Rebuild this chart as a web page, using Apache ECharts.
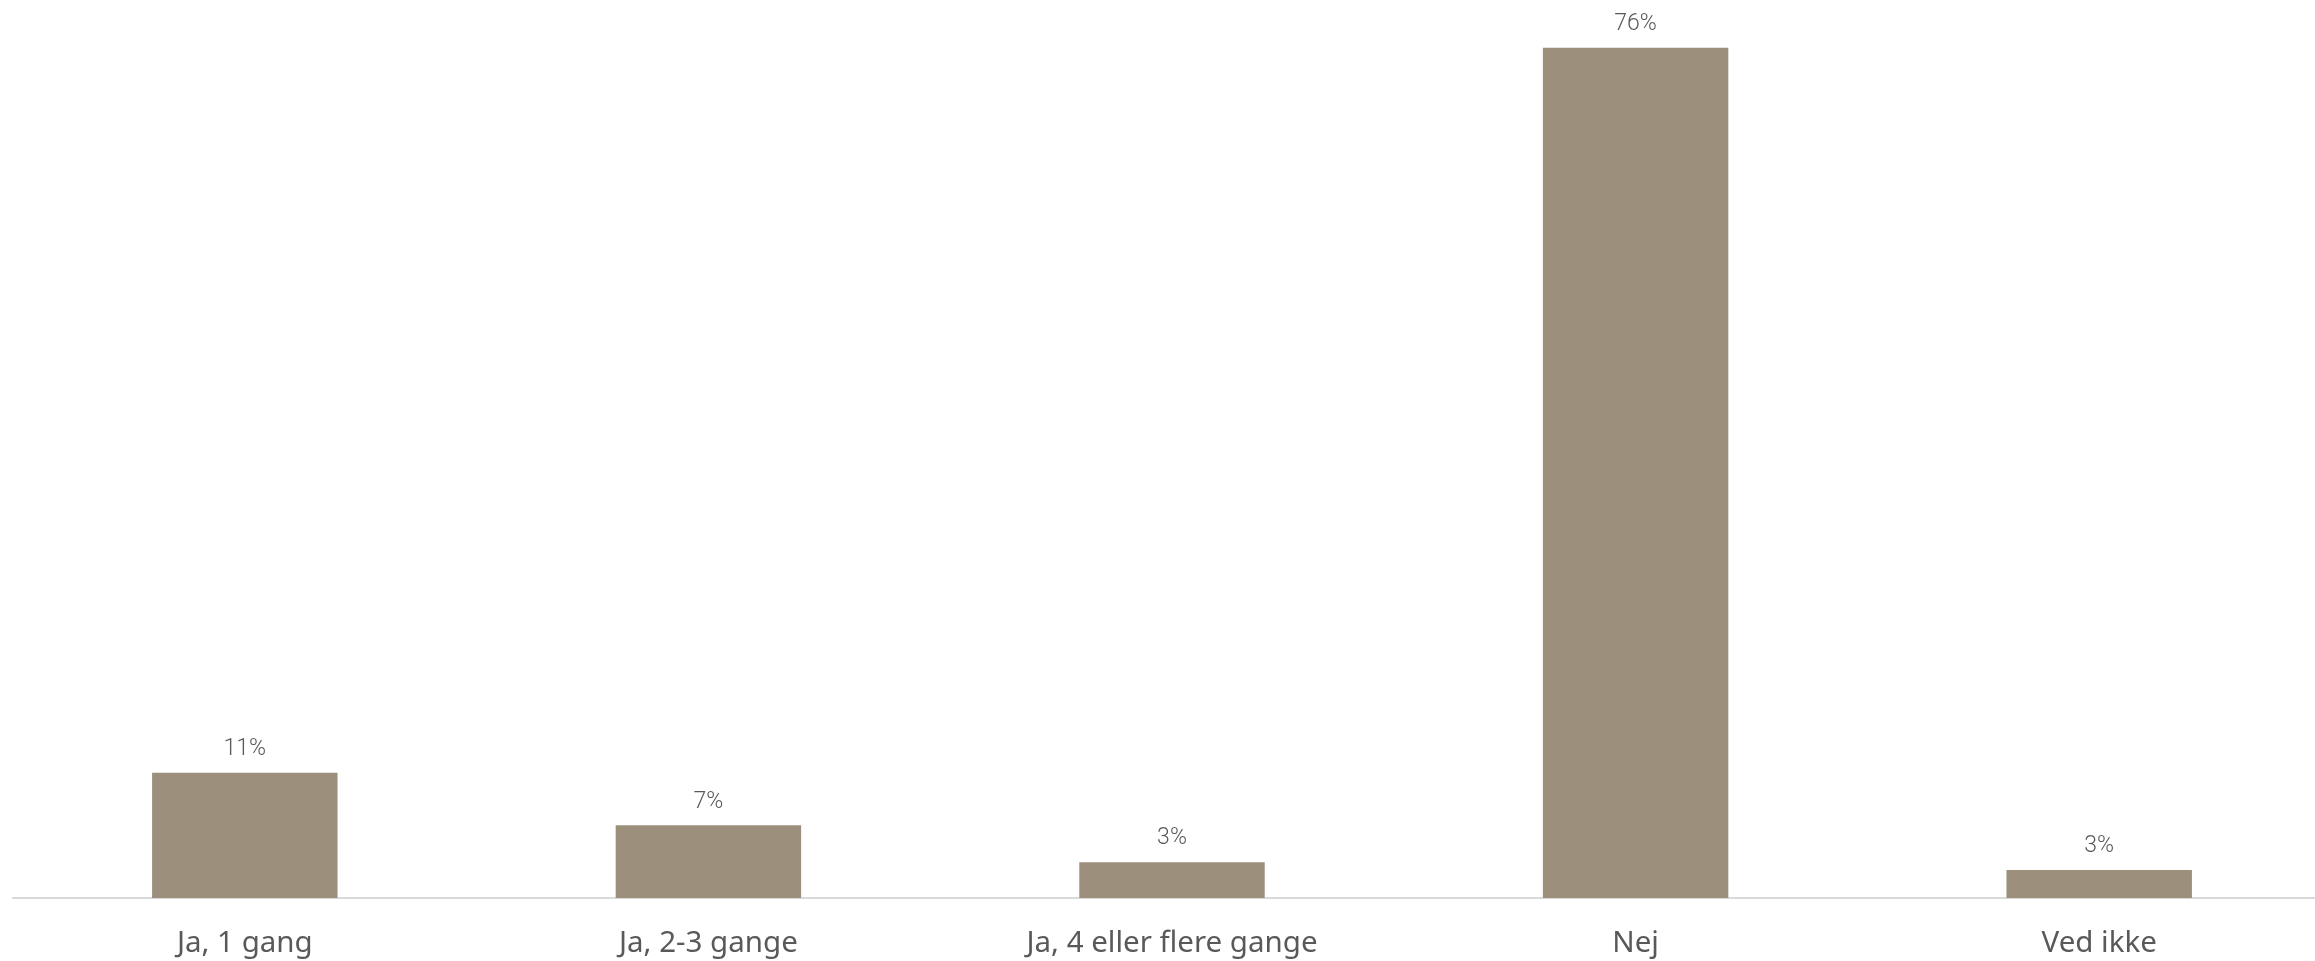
<!DOCTYPE html>
<html>
<head>
<meta charset="utf-8">
<script src="https://cdn.jsdelivr.net/npm/echarts@6/dist/echarts.min.js"></script>
<style>
html,body{margin:0;padding:0;background:#fff;}
#chart{width:2315px;height:961px;}
</style>
</head>
<body>
<div id="chart"></div>
<script>
const categories = ["Ja, 1 gang", "Ja, 2-3 gange", "Ja, 4 eller flere gange", "Nej", "Ved ikke"];
const values = [11.2, 6.5, 3.2, 76.0, 2.5];

const chart = echarts.init(document.getElementById('chart'), null, {renderer: 'canvas'});
chart.setOption({
  animation: false,
  backgroundColor: '#ffffff',
  grid: {left: 13, right: -16, top: 3, bottom: 63, containLabel: false, outerBoundsMode: 'none'},
  xAxis: {
    type: 'category',
    data: categories,
    axisLine: {show: true, lineStyle: {color: '#d9d9d9', width: 2}},
    axisTick: {show: false},
    axisLabel: {color: '#595959', fontSize: 29.5, fontFamily: 'Noto Sans', margin: 31}
  },
  yAxis: {
    type: 'value', min: 0, max: 80,
    show: false,
    splitLine: {show: false}
  },
  series: [{
    type: 'bar',
    data: values,
    barWidth: '40%',
    itemStyle: {color: '#9c907d'},
    label: {
      show: true, position: 'top', distance: 12,
      color: '#595959', fontSize: 23, fontFamily: 'Roboto', fontWeight: 300,
      formatter: p => Math.round(p.value) + '%'
    }
  }]
});
</script>
</body>
</html>
